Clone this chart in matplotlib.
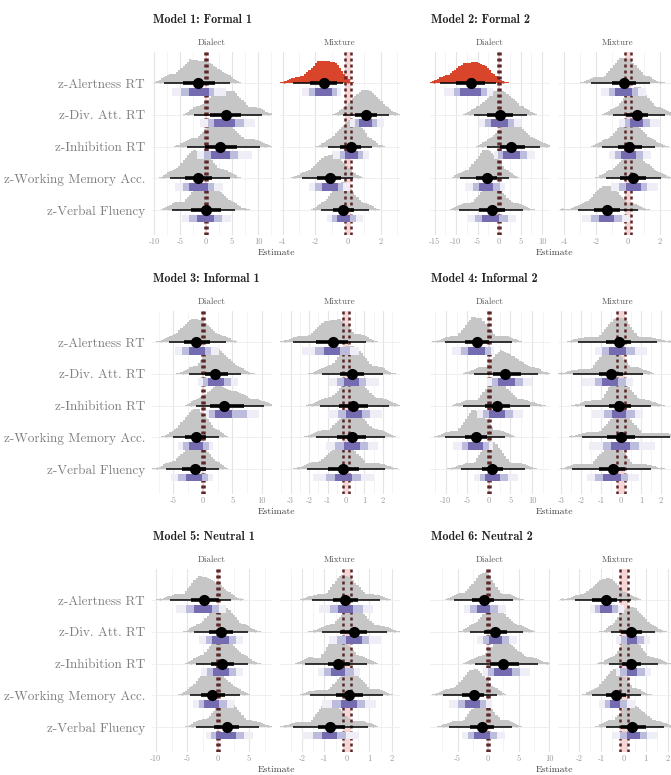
import numpy as np
import matplotlib.pyplot as plt

plt.rcParams['font.family'] = 'cmr10'
plt.rcParams['axes.unicode_minus'] = False

models = ['Model 1: Formal 1', 'Model 2: Formal 2', 'Model 3: Informal 1',
          'Model 4: Informal 2', 'Model 5: Neutral 1', 'Model 6: Neutral 2']
facets = ['Dialect', 'Mixture']
outcomes = ['z-Alertness RT', 'z-Div. Att. RT', 'z-Inhibition RT',
            'z-Working Memory Acc.', 'z-Verbal Fluency']

# one row per panel: M1 Dialect, M1 Mixture, M2 Dialect, ... ; columns follow `outcomes`
med = [[-1.5, 3.8, 2.7, -1.5, 0.0], [-1.5, 1.1, 0.2, -1.1, -0.3],
       [-6.5, 0.2, 2.9, -2.9, -1.7], [-0.25, 0.57, 0.05, 0.3, -1.3],
       [-1.1, 2.0, 3.6, -1.2, -1.4], [-0.7, 0.3, 0.4, 0.3, -0.15],
       [-2.9, 3.7, 1.8, -3.1, 0.6], [-0.1, -0.5, -0.1, 0.0, -0.4],
       [-2.3, 0.5, 0.6, -0.9, 1.4], [-0.1, 0.3, -0.4, 0.1, -0.75],
       [-0.7, 1.1, 2.5, -2.35, -1.0], [-0.8, 0.35, 0.35, -0.35, 0.4]]
# 66% interval (thick black)
lo66 = [[-4.5, 0.8, -0.2, -4.0, -2.8], [-2.3, 0.4, -0.5, -1.9, -0.9],
        [-10.0, -2.7, 0.3, -5.4, -4.7], [-1.0, -0.1, -0.65, -0.5, -2.1],
        [-3.2, 0.3, 1.2, -3.0, -3.5], [-1.6, -0.35, -0.4, -0.5, -1.0],
        [-5.6, 1.0, -0.9, -5.6, -1.7], [-0.75, -1.1, -0.6, -0.7, -1.1],
        [-4.3, -1.4, -1.1, -2.7, -0.6], [-0.6, -0.3, -0.85, -0.5, -1.3],
        [-2.6, -0.7, 0.4, -4.3, -2.9], [-1.4, -0.1, -0.05, -0.8, -0.1]]
hi66 = [[1.8, 6.8, 6.0, 1.2, 2.8], [-0.7, 1.8, 0.8, -0.4, 0.35],
        [-3.2, 3.2, 6.0, -0.4, 1.3], [0.5, 1.25, 0.85, 1.15, -0.5],
        [1.2, 4.2, 7.0, 0.6, 0.6], [0.1, 1.0, 1.2, 1.1, 0.7],
        [0.0, 7.5, 4.9, -0.5, 3.3], [0.5, 0.1, 0.5, 0.7, 0.2],
        [0.1, 2.4, 2.6, 1.2, 3.4], [0.5, 0.9, 0.15, 0.7, -0.1],
        [0.9, 3.1, 5.0, -0.6, 0.9], [-0.3, 0.85, 0.8, 0.1, 1.0]]
# 95% interval (thin black)
lo95 = [[-8.0, -2.4, -3.7, -6.9, -6.6], [-3.4, -0.3, -1.25, -2.8, -1.65],
        [-13.8, -5.9, -2.9, -9.0, -9.2], [-2.3, -0.95, -1.6, -1.4, -3.1],
        [-5.7, -2.4, -1.2, -5.1, -6.3], [-2.85, -1.3, -1.4, -1.6, -2.1],
        [-10.2, -3.5, -6.0, -10.2, -6.4], [-2.15, -2.4, -1.8, -1.95, -2.45],
        [-7.8, -3.8, -3.5, -4.6, -3.5], [-1.57, -1.1, -1.87, -1.65, -2.4],
        [-5.5, -3.0, -2.2, -7.4, -6.4], [-2.2, -0.55, -0.65, -1.4, -0.8]]
hi95 = [[4.6, 10.7, 10.3, 4.6, 5.6], [-0.3, 2.5, 1.5, 0.3, 1.3],
        [-0.8, 6.4, 9.6, 2.3, 5.5], [1.4, 2.3, 1.7, 2.05, 0.65],
        [3.9, 6.5, 10.4, 2.7, 2.7], [1.1, 2.0, 2.3, 2.1, 2.1],
        [5.3, 11.5, 9.5, 3.7, 8.4], [1.8, 1.1, 1.5, 2.45, 1.5],
        [2.1, 4.8, 4.8, 3.5, 6.6], [1.47, 1.8, 0.87, 1.6, 0.95],
        [4.1, 5.8, 8.2, 1.5, 3.9], [0.35, 1.4, 1.55, 0.8, 1.8]]
# most extreme draws
xmin = [[-8.8, -3.4, -4.7, -8.2, -7.2], [-3.9, -0.6, -1.6, -3.3, -2.0],
        [-15.2, -6.8, -3.9, -9.8, -10.2], [-2.6, -1.2, -1.9, -1.7, -4.1],
        [-7.1, -3.3, -2.0, -6.3, -7.7], [-3.3, -1.7, -1.85, -1.95, -2.6],
        [-12.2, -4.5, -7.0, -11.8, -8.7], [-2.5, -3.0, -2.2, -2.5, -2.7],
        [-9.4, -4.6, -4.4, -5.8, -4.2], [-1.97, -1.45, -1.97, -1.97, -2.75],
        [-6.2, -3.7, -3.0, -8.5, -7.3], [-2.75, -0.8, -0.85, -1.6, -1.0]]
xmax = [[5.6, 12.0, 11.3, 5.5, 7.5], [0.0, 2.9, 1.9, 0.6, 1.65],
        [0.9, 7.2, 11.0, 3.7, 6.7], [2.0, 2.6, 2.1, 2.5, 1.0],
        [5.2, 7.7, 12.0, 3.3, 3.3], [1.4, 2.3, 2.6, 2.5, 2.5],
        [6.0, 13.3, 11.9, 5.0, 9.5], [2.4, 1.35, 1.85, 2.6, 2.0],
        [3.5, 6.0, 5.8, 4.2, 8.0], [1.8, 2.1, 1.1, 1.8, 1.15],
        [5.0, 6.7, 9.6, 2.0, 4.6], [0.5, 1.65, 1.85, 1.0, 2.1]]
# purple interval stack: 50%, 80%, 95%
p50lo = [[-3.3, 1.5, 1.0, -3.2, -1.8], [-2.0, 0.7, -0.2, -1.6, -0.7],
         [-9.0, -1.9, 1.0, -4.6, -3.9], [-0.8, 0.15, -0.45, -0.15, -1.8],
         [-2.4, 0.9, 2.1, -2.3, -2.9], [-1.2, -0.1, 0.0, -0.1, -0.6],
         [-4.8, 2.2, 0.0, -4.8, -0.9], [-0.6, -0.95, -0.45, -0.5, -0.9],
         [-3.9, -0.9, -0.8, -2.2, -0.3], [-0.4, -0.05, -0.7, -0.25, -1.1],
         [-1.8, 0.1, 1.0, -3.7, -2.3], [-1.05, 0.15, 0.15, -0.6, 0.15]]
p50hi = [[0.6, 5.5, 4.6, 0.3, 1.5], [-1.0, 1.5, 0.6, -0.6, 0.15],
         [-4.3, 2.2, 4.8, -1.4, -0.1], [0.25, 0.95, 0.5, 0.8, -0.85],
         [0.4, 3.5, 5.0, 0.0, -0.2], [-0.3, 0.7, 0.85, 0.75, 0.3],
         [-0.9, 6.0, 3.7, -1.3, 2.6], [0.25, -0.15, 0.25, 0.45, 0.0],
         [-1.0, 1.8, 1.8, 0.2, 2.9], [0.25, 0.65, -0.1, 0.45, -0.45],
         [0.4, 2.3, 3.9, -1.3, 0.4], [-0.5, 0.6, 0.6, -0.15, 0.75]]
p80lo = [[-4.8, 0.3, -0.3, -4.5, -3.3], [-2.4, 0.4, -0.5, -2.0, -1.0],
         [-10.5, -3.2, -0.2, -6.0, -5.5], [-1.2, -0.2, -0.8, -0.55, -2.3],
         [-3.6, 0.0, 1.0, -3.3, -4.2], [-1.7, -0.5, -0.45, -0.6, -1.1],
         [-6.5, 0.8, -1.5, -6.3, -2.0], [-0.95, -1.3, -0.85, -0.9, -1.3],
         [-5.2, -1.9, -1.8, -3.1, -1.2], [-0.75, -0.45, -1.0, -0.65, -1.5],
         [-3.0, -0.9, 0.0, -4.9, -3.3], [-1.3, -0.1, -0.15, -0.85, -0.15]]
p80hi = [[1.6, 7.3, 6.2, 1.5, 3.0], [-0.7, 1.8, 0.9, -0.3, 0.5],
         [-2.9, 3.6, 6.6, 0.2, 2.0], [0.6, 1.35, 0.95, 1.2, -0.35],
         [1.4, 4.7, 7.4, 1.0, 0.9], [0.2, 1.1, 1.3, 1.2, 0.8],
         [0.5, 7.8, 5.5, 0.0, 4.5], [0.7, 0.25, 0.7, 0.9, 0.35],
         [0.2, 2.9, 2.9, 1.4, 4.2], [0.7, 1.0, 0.3, 0.8, -0.05],
         [1.6, 3.4, 5.3, -0.3, 1.5], [-0.25, 0.9, 0.95, 0.15, 1.05]]
p95lo = [[-6.5, -1.2, -1.8, -5.9, -4.7], [-2.8, 0.1, -0.9, -2.4, -1.3],
         [-12.8, -4.7, -1.1, -7.8, -7.1], [-1.7, -0.55, -1.2, -1.05, -2.85],
         [-4.8, -0.8, 0.6, -4.2, -5.4], [-2.4, -0.9, -1.0, -1.1, -1.8],
         [-8.7, -0.5, -2.8, -8.3, -3.5], [-1.3, -1.95, -1.45, -1.6, -1.7],
         [-6.7, -3.0, -2.7, -4.1, -1.9], [-1.25, -0.8, -1.3, -1.1, -2.0],
         [-4.0, -1.8, -0.8, -6.4, -4.3], [-1.5, -0.35, -0.35, -1.1, -0.5]]
p95hi = [[3.8, 9.5, 8.8, 3.2, 4.8], [-0.4, 2.2, 1.3, 0.1, 0.9],
         [-1.5, 5.2, 8.4, 1.5, 4.0], [1.1, 2.0, 1.45, 1.9, 0.1],
         [2.7, 5.9, 9.5, 1.8, 1.8], [0.7, 1.8, 1.95, 1.75, 1.5],
         [1.2, 10.0, 7.8, 1.0, 6.8], [1.3, 0.6, 1.1, 1.7, 0.9],
         [1.3, 4.0, 4.0, 2.6, 5.6], [1.15, 1.5, 0.6, 1.3, 0.55],
         [3.0, 4.7, 6.9, 0.7, 2.8], [0.0, 1.2, 1.25, 0.5, 1.55]]

rope = 0.18
xlims = [(-10.4, 12.7), (-4.17, 3.19), (-16.05, 11.86), (-4.38, 3.13),
         (-8.62, 11.72), (-3.57, 2.92), (-13.72, 14.19), (-3.15, 2.85),
         (-10.65, 8.71), (-2.98, 2.36), (-9.51, 10.16), (-2.95, 2.45)]
tick_step = [5, 2, 5, 2, 5, 1, 5, 1, 5, 1, 5, 1]

GRAY = '#c6c6c6'
RED = '#d8452b'
PURPLES = ['#efedf5', '#bcbddc', '#756bb1']

W, H = 671, 775
fig = plt.figure(figsize=(W / 100, H / 100), dpi=100)


def rect(x0, x1, y0, y1):
    return [x0 / W, 1 - y1 / H, (x1 - x0) / W, (y1 - y0) / H]


col_x = [[(152, 272), (280, 400)], [(430, 550), (558, 678)]]
block_off = [0, 259, 517]
ypos = np.arange(len(outcomes))[::-1]

for m, title in enumerate(models):
    col, blk = m % 2, m // 2
    off = block_off[blk]
    top, bot = 52 + off, 235 + off
    x_left = col_x[col][0][0]
    fig.text((x_left + 1) / W, 1 - (20 + off) / H, title, family='cmb10',
             fontsize=8.7, color='#222222', va='center', ha='left')
    cx = (col_x[col][0][0] + col_x[col][1][1]) / 2
    fig.text(cx / W, 1 - (253 + off) / H, 'Estimate', fontsize=7,
             color='#444444', ha='center', va='center')

    for f, facet in enumerate(facets):
        p = 2 * m + f
        x0, x1 = col_x[col][f]
        ax = fig.add_axes(rect(x0, x1, top, bot))
        lo_x, hi_x = xlims[p]
        ax.set_xlim(lo_x, hi_x)
        ax.set_ylim(-0.79, 4.98)
        fig.text((x0 + x1) / 2 / W, 1 - (43 + off) / H, facet,
                 fontsize=6.5, color='#555555', ha='center', va='center')

        st = tick_step[p]
        ax.set_xticks(np.arange(np.ceil(lo_x / st) * st, hi_x + 1e-9, st))
        ax.set_xticks(np.arange(np.ceil(lo_x / (st / 2)) * st / 2, hi_x, st / 2), minor=True)
        ax.set_xticklabels([f'{t:g}' for t in ax.get_xticks()])
        ax.grid(which='major', axis='x', color='#e4e4e4', lw=0.8, zorder=0)
        ax.grid(which='minor', axis='x', color='#f3f3f3', lw=0.6, zorder=0)
        ax.set_yticks(ypos)
        ax.grid(which='major', axis='y', color='#ececec', lw=0.6, zorder=0)
        if col == 0 and f == 0:
            ax.set_yticklabels(outcomes)
        else:
            ax.set_yticklabels([])
        ax.tick_params(axis='both', which='both', length=0)
        ax.tick_params(axis='x', labelsize=6, labelcolor='#9a9a9a', pad=2)
        ax.tick_params(axis='y', labelsize=9.5, labelcolor='#808080', pad=5)
        for s in ax.spines.values():
            s.set_visible(False)
        ax.set_axisbelow(True)

        # region of practical equivalence
        ax.axvspan(-rope, rope, color='#f5d6d6', lw=0, zorder=1)
        for r in (-rope, rope):
            ax.axvline(r, color='#5a2424', lw=1.8, ls=(0, (1.2, 1.2)), zorder=3)

        # histograms from the posterior quantiles
        bw = (hi_x - lo_x) / 55
        edges = np.arange(lo_x, hi_x + bw, bw)
        masses = []
        for i in range(len(outcomes)):
            qx = np.array([xmin[p][i], lo95[p][i], lo66[p][i], med[p][i],
                           hi66[p][i], hi95[p][i], xmax[p][i]])
            qx = np.maximum.accumulate(qx + np.arange(7) * 1e-6)
            qp = [0, 0.025, 0.17, 0.5, 0.83, 0.975, 1]
            mass = np.diff(np.interp(edges, qx, qp))
            mass = np.convolve(mass, np.ones(7) / 7, mode='same')
            masses.append(mass)
        peak = max(ms.max() for ms in masses)

        for i, y in enumerate(ypos):
            sig = hi95[p][i] < -rope or lo95[p][i] > rope
            c = RED if sig else GRAY
            h = masses[i] / peak * 0.88
            keep = h > 0.006
            ax.bar((edges[:-1] + bw / 2)[keep], h[keep], width=bw, bottom=y,
                   color=c, lw=0, zorder=2)
            ax.plot([xmin[p][i], xmax[p][i]], [y + 0.03, y + 0.03], 'o',
                    ms=1.8, color=c, mew=0, zorder=2)
            # purple interval stack under the baseline
            for lo, hi, pc in ((p95lo, p95hi, PURPLES[0]), (p80lo, p80hi, PURPLES[1]),
                               (p50lo, p50hi, PURPLES[2])):
                ax.barh(y - 0.27, hi[p][i] - lo[p][i], height=0.25, left=lo[p][i],
                        color=pc, lw=0, zorder=3.5)
            # point interval
            ax.plot([lo95[p][i], hi95[p][i]], [y, y], color='black', lw=1.1,
                    solid_capstyle='butt', zorder=4)
            ax.plot([lo66[p][i], hi66[p][i]], [y, y], color='black', lw=2.6,
                    solid_capstyle='butt', zorder=4)
            ax.plot(med[p][i], y, 'o', color='black', ms=7, zorder=5)

fig.savefig('out.png', dpi=100)
